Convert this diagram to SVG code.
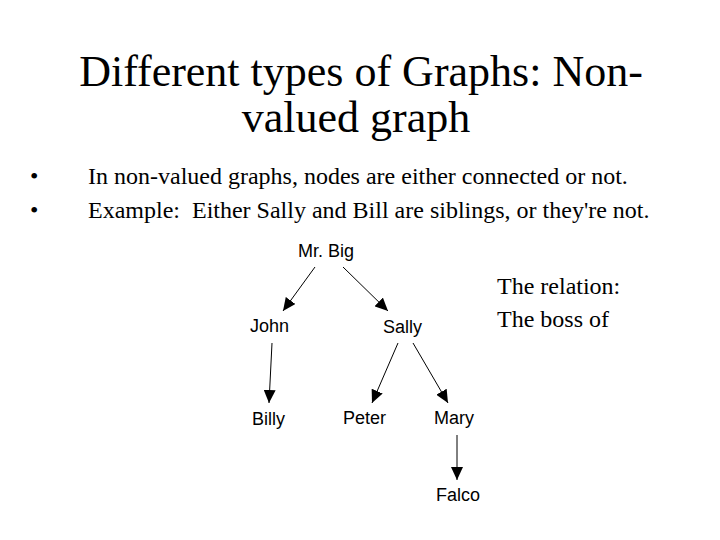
<svg xmlns="http://www.w3.org/2000/svg" width="720" height="540" viewBox="0 0 720 540">
<style>
.title{font-family:"Liberation Serif","Times New Roman",serif;font-size:44px;fill:#000}
.body{font-family:"Liberation Serif","Times New Roman",serif;font-size:24px;fill:#000}
.rel{font-family:"Liberation Serif","Times New Roman",serif;font-size:24px;fill:#000}
.node{font-family:"Liberation Sans",Arial,sans-serif;font-size:18px;fill:#000}
.edge{stroke:#000;stroke-width:1;fill:none;marker-end:url(#ah)}
</style>
<defs>
<marker id="ah" markerUnits="userSpaceOnUse" markerWidth="14" markerHeight="12" refX="13" refY="6" orient="auto">
<path d="M0,0 L13,6 L0,12 Z" fill="#000"/>
</marker>
</defs>
<rect width="720" height="540" fill="#fff"/>
<text class="title" x="361" y="86" text-anchor="middle">Different types of Graphs: Non-</text>
<text class="title" x="356" y="132" text-anchor="middle">valued graph</text>
<text class="body" x="30" y="184">•</text>
<text class="body" x="88" y="184">In non-valued graphs, nodes are either connected or not.</text>
<text class="body" x="30" y="218">•</text>
<text class="body" x="88" y="218">Example:&#160; Either Sally and Bill are siblings, or they're not.</text>
<text class="rel" x="497" y="294">The relation:</text>
<text class="rel" x="497" y="327">The boss of</text>
<g id="connectors">
<line class="edge" x1="315" y1="267" x2="283" y2="311"/>
<line class="edge" x1="343" y1="267" x2="388" y2="311"/>
<line class="edge" x1="272" y1="343" x2="269" y2="403"/>
<line class="edge" x1="398" y1="343" x2="372" y2="403"/>
<line class="edge" x1="413" y1="343" x2="448" y2="403"/>
<line class="edge" x1="457" y1="435" x2="457" y2="480"/>
</g>
<g id="mrbig"><text class="node" x="298" y="257">Mr. Big</text></g>
<g id="john"><text class="node" x="250" y="332">John</text></g>
<g id="sally"><text class="node" x="383" y="333">Sally</text></g>
<g id="billy"><text class="node" x="252" y="425">Billy</text></g>
<g id="peter"><text class="node" x="343" y="424">Peter</text></g>
<g id="mary"><text class="node" x="434" y="424">Mary</text></g>
<g id="falco"><text class="node" x="436" y="501">Falco</text></g>
</svg>
